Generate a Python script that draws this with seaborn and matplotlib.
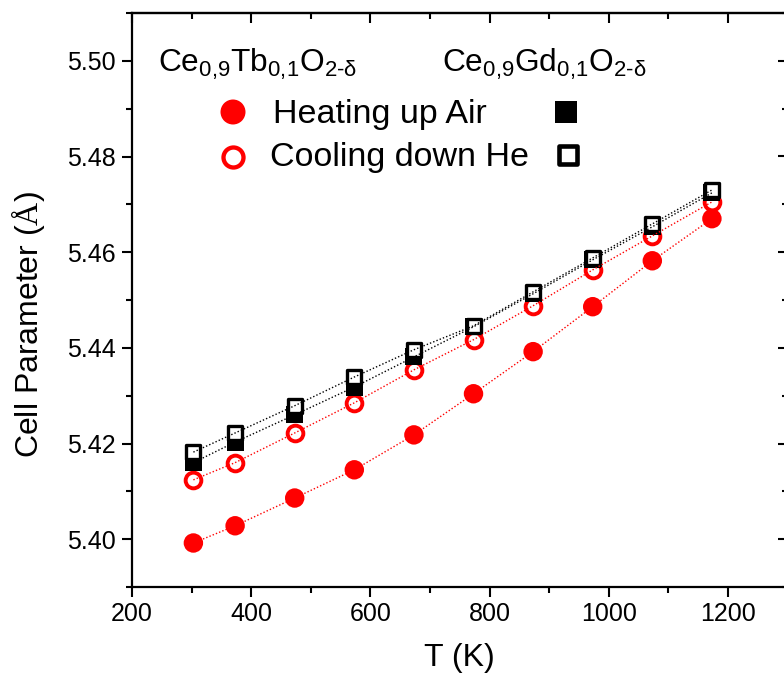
import matplotlib
matplotlib.use("Agg")
import matplotlib.pyplot as plt
import numpy as np
import pandas as pd
import seaborn as sns
from matplotlib.ticker import MultipleLocator

# Lattice parameter of doped ceria versus temperature
temperature = [303, 373, 473, 573, 673, 773, 873, 973, 1073, 1173]
tb_heating_air = [5.3992, 5.4028, 5.4086, 5.4145, 5.4218, 5.4304, 5.4392, 5.4486, 5.4582, 5.4670]
tb_cooling_he = [5.4124, 5.4160, 5.4222, 5.4285, 5.4354, 5.4417, 5.4488, 5.4563, 5.4634, 5.4705]
gd_heating_air = [5.4160, 5.4203, 5.4260, 5.4318, 5.4381, 5.4444, 5.4513, 5.4584, 5.4653, 5.4724]
gd_cooling_he = [5.4182, 5.4222, 5.4279, 5.4339, 5.4396, 5.4446, 5.4517, 5.4588, 5.4659, 5.4730]

x_ticks = [200, 400, 600, 800, 1000, 1200]
y_ticks = [5.40, 5.42, 5.44, 5.46, 5.48, 5.50]

sns.set_theme(style="white")
plt.rcParams["font.family"] = ["Liberation Sans", "DejaVu Sans"]
plt.rcParams["mathtext.fontset"] = "custom"
plt.rcParams["mathtext.rm"] = "Liberation Sans"
plt.rcParams["mathtext.it"] = "Liberation Sans:italic"
plt.rcParams["mathtext.tt"] = "Liberation Serif"

W, H = 784, 685
fig = plt.figure(figsize=(W / 100, H / 100), dpi=100)
fig.patch.set_facecolor("white")
ax = fig.add_axes([132 / W, (H - 587) / H, (787.6 - 132) / W, (587 - 13) / H])
ax.set_facecolor("white")

df = pd.DataFrame({
    "T": temperature,
    "tb_air": tb_heating_air,
    "tb_he": tb_cooling_he,
    "gd_air": gd_heating_air,
    "gd_he": gd_cooling_he,
})

# markers
sns.scatterplot(data=df, x="T", y="tb_air", marker="o", s=14.0 ** 2,
                color="#ff0000", edgecolor="none", linewidth=0, ax=ax, zorder=3)
sns.scatterplot(data=df, x="T", y="tb_he", marker="o", s=11.3 ** 2,
                color="white", edgecolor="#ff0000", linewidth=2.8, ax=ax, zorder=3)
sns.scatterplot(data=df, x="T", y="gd_air", marker="s", s=12.3 ** 2,
                color="black", edgecolor="none", linewidth=0, ax=ax, zorder=4)
sns.scatterplot(data=df, x="T", y="gd_he", marker="s", s=10.3 ** 2,
                color="white", edgecolor="black", linewidth=2.4, ax=ax, zorder=4)

# dotted connecting lines
for col, colr in [("tb_air", "#ff0000"), ("tb_he", "#ff0000"),
                  ("gd_air", "black"), ("gd_he", "black")]:
    sns.lineplot(data=df, x="T", y=col, color=colr, linestyle=(0, (1, 1.5)),
                 linewidth=1.0, ax=ax, zorder=5, sort=False, estimator=None)

ax.set_xlim(200, 1300)
ax.set_ylim(5.39, 5.51)
ax.set_xticks(x_ticks)
ax.set_yticks(y_ticks)
ax.set_xticklabels([str(v) for v in x_ticks])
ax.set_yticklabels([f"{v:.2f}" for v in y_ticks])
ax.xaxis.set_minor_locator(MultipleLocator(100))
ax.yaxis.set_minor_locator(MultipleLocator(0.01))

for side in ["left", "bottom", "top", "right"]:
    ax.spines[side].set_visible(True)
    ax.spines[side].set_color("black")
    ax.spines[side].set_linewidth(1.6)

ax.tick_params(axis="both", which="both", bottom=True, left=True, top=False, right=False)
ax.tick_params(axis="both", which="major", direction="out", length=7, width=1.5,
               color="black", labelsize=18, labelcolor="black", pad=4)
ax.tick_params(axis="both", which="minor", direction="out", length=4, width=1.5,
               color="black")
ax.tick_params(axis="y", which="major", pad=5)

# inward ticks on the top and right frame
sec_x = ax.secondary_xaxis("top")
sec_x.set_xticks(x_ticks)
sec_x.xaxis.set_minor_locator(MultipleLocator(100))
sec_x.tick_params(axis="x", which="both", top=True, labeltop=False)
sec_x.tick_params(axis="x", which="major", direction="in", length=7, width=1.5,
                  color="black")
sec_x.tick_params(axis="x", which="minor", direction="in", length=4, width=1.5,
                  color="black")
sec_x.spines["top"].set_linewidth(1.6)

sec_y = ax.secondary_yaxis("right")
sec_y.set_yticks(y_ticks)
sec_y.yaxis.set_minor_locator(MultipleLocator(0.01))
sec_y.tick_params(axis="y", which="both", right=True, labelright=False)
sec_y.tick_params(axis="y", which="major", direction="in", length=7, width=1.5,
                  color="black")
sec_y.tick_params(axis="y", which="minor", direction="in", length=4, width=1.5,
                  color="black")
sec_y.spines["right"].set_linewidth(1.6)

ax.set_xlabel("T (K)", fontsize=23, color="black")
ax.set_ylabel(r"Cell Parameter ($\mathtt{Å}$)", fontsize=23, color="black")
ax.xaxis.set_label_coords(0.5, (587 - 643) / 574)
ax.xaxis.label.set_va("top")
ax.yaxis.set_label_coords((47 - 132) / 655.6, (587 - 325) / 574)


def fx(px):
    return px / W


def fy(py):
    return 1 - py / H


# compound headers
fig.text(fx(158), fy(72), r"Ce$_{\text{0,9}}$Tb$_{\text{0,1}}$O$_{\text{2-δ}}$",
         fontsize=22.8, ha="left", va="baseline", color="black")
fig.text(fx(442), fy(72), r"Ce$_{\text{0,9}}$Gd$_{\text{0,1}}$O$_{\text{2-δ}}$",
         fontsize=22.8, ha="left", va="baseline", color="black")

# key entries
fig.text(fx(273), fy(123), "Heating up Air", fontsize=24.5, ha="left", va="baseline",
         color="black")
fig.text(fx(270), fy(166), "Cooling down He", fontsize=24.5, ha="left", va="baseline",
         color="black")

key = fig.add_axes([0, 0, 1, 1], facecolor="none")
key.set_xlim(0, W)
key.set_ylim(H, 0)
key.axis("off")
key.scatter([233], [112], marker="o", s=18.0 ** 2, color="#ff0000", edgecolor="none")
key.scatter([233], [157], marker="o", s=14.4 ** 2, color="white", edgecolor="#ff0000",
            linewidth=3.1)
key.scatter([566], [112], marker="s", s=15.8 ** 2, color="black", edgecolor="none")
key.scatter([568], [155], marker="s", s=12.5 ** 2, color="white", edgecolor="black",
            linewidth=3.3)

fig.savefig("out.png", dpi=100, facecolor="white")
